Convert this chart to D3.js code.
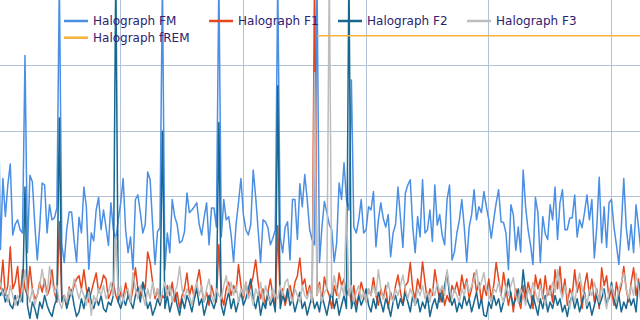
<!DOCTYPE html>
<html><head><meta charset="utf-8">
<script src="https://cdn.jsdelivr.net/npm/d3@7"></script>
<style>html,body{margin:0;padding:0;background:#fff;overflow:hidden}</style>
</head><body><svg id="c" width="640" height="320"></svg>
<script>
// time (sample index) gridline ticks and value gridline ticks
const timeTicks = [0, 50, 100, 150, 200, 250];
const valueTicks = [10, 20, 30, 40];

const seriesNames = ["Halograph FM", "Halograph F1", "Halograph F2", "Halograph F3", "Halograph fREM"];
const seriesColors = ["#4a8fe3", "#e5461c", "#17678f", "#bdbdbd", "#f8b23c"];

const fmValues = [
41,12,22.8,17.0,21.8,25.0,14.2,15.8,16.5,15.0,
14.5,41.5,11.5,23.3,22.3,15.8,10.4,15.4,22.1,21.8,
14.5,18.8,16.5,16.8,18.3,53,12.7,10.0,15.0,17.7,
17.7,13.5,10.1,16.9,14.5,21.5,18.5,9.0,14.5,13.3,
18.0,19.9,15.0,18.0,15.4,12.6,19.1,15.0,13.5,16.5,
19.1,22.8,15.0,11.5,13.9,8.9,19.6,20.3,17.6,14.5,
15.8,23.8,22.6,15.8,9.7,14.7,15.3,53,8.9,14.5,
11.5,19.6,17.0,15.8,13.0,13.3,14.7,20.6,17.6,18.0,
18.5,19.1,15.8,14.2,16.9,19.1,12.7,18.3,18.3,15.4,
53,13.9,19.6,16.5,17.0,14.2,10.1,15.8,19.1,22.8,
17.3,15.0,14.2,15.8,24.1,20.0,15.0,10.0,16.5,16.2,
15.3,12.7,13.7,15.0,53,13.9,11.5,15.4,16.2,10.4,
19.6,19.6,13.5,22.0,18.5,23.4,19.6,15.0,13.5,12.7,
53,10.0,15.4,19.3,17.6,15.8,15.0,10.1,13.0,22.1,
19.6,25.2,19.6,18.0,37.8,15.4,14.5,16.5,19.6,14.5,
15.0,18.5,18.0,20.8,12.4,16.5,19.1,16.7,15.4,17.3,
10.9,14.5,15.8,21.5,16.8,12.3,20.6,21.8,22.6,15.4,
11.5,17.0,13.9,22.6,14.5,15.0,18.0,13.2,21.8,15.7,
17.3,14.2,12.7,19.6,21.8,10.4,11.6,14.5,16.5,19.6,
15.4,10.1,15.4,17.3,21.1,16.5,18.5,17.6,20.8,18.5,
16.5,13.7,16.5,19.1,21.1,16.2,16.1,14.5,8.9,18.8,
17.3,11.9,15.4,11.6,24.1,18.5,15.0,12.7,9.7,19.9,
17.6,10.0,17.0,14.4,13.5,18.8,16.5,21.5,13.5,19.1,
21.1,15.0,15.0,16.8,16.8,20.3,13.9,16.5,15.3,17.6,
20.3,16.5,19.6,10.7,15.4,23.0,13.0,18.5,12.3,19.1,
19.6,15.4,12.7,9.7,15.4,22.8,15.4,11.9,15.8,11.5,
18.8,15.4,11.6];

const f1Values = [
8.5,6.0,10.4,5.0,6.5,12.4,6.0,7.0,9.4,4.5,
8.9,6.0,5.0,9.4,6.0,4.5,5.0,7.0,5.5,7.5,
5.0,6.0,8.9,5.5,4.0,16.2,4.5,5.0,3.5,6.3,
5.0,6.5,7.5,8.0,6.0,8.9,6.0,4.0,5.5,7.0,
8.4,5.5,6.5,8.1,7.5,4.5,5.5,7.0,5.0,4.0,
5.5,4.5,6.9,5.0,4.0,6.0,9.2,6.0,5.0,7.0,
6.0,11.6,10.0,7.0,4.5,6.0,3.5,5.0,4.5,6.5,
5.0,7.0,4.0,5.5,3.0,5.0,6.0,8.4,5.0,6.5,
4.5,7.0,8.9,6.0,4.0,5.5,3.5,6.5,5.0,4.0,
12.7,5.0,3.5,6.0,7.0,5.0,6.5,5.5,9.7,6.5,
4.5,7.0,5.0,6.5,8.0,10.4,7.0,4.5,6.0,3.5,
5.5,7.5,5.0,3.0,15.6,4.0,6.0,3.5,5.0,6.5,
4.5,7.0,8.0,10.7,6.5,7.5,5.0,6.5,4.0,55,
5.0,7.0,4.0,7.8,6.0,5.0,3.0,6.5,5.0,8.4,
6.5,7.5,5.0,6.0,4.0,6.5,3.5,5.0,7.0,5.5,
4.0,6.0,5.0,7.7,5.0,3.5,6.0,4.5,6.5,3.0,
5.5,4.0,6.5,8.1,5.5,3.5,6.5,7.0,10.0,6.0,
4.5,7.5,6.0,10.1,7.0,4.0,6.0,5.0,8.9,6.5,
4.0,6.0,3.5,5.0,4.0,6.5,5.5,7.0,5.0,8.1,
6.0,7.5,4.5,6.0,8.4,5.5,7.0,4.0,6.5,5.0,
7.5,4.5,6.5,10.0,7.5,5.0,8.5,6.0,3.5,5.5,
2.5,6.0,4.5,3.0,6.5,4.0,7.0,5.5,3.0,8.1,
6.0,7.5,4.5,8.0,5.0,6.5,4.0,8.9,6.0,9.4,
5.0,7.5,3.5,6.0,5.0,8.9,5.5,7.0,3.0,6.5,
8.4,5.0,7.5,4.0,6.0,3.0,9.2,6.5,8.0,4.5,
6.0,3.5,7.0,5.0,6.5,9.4,6.0,4.0,7.0,9.2,
5.0,7.5,4.0];

const f2Values = [
6.2,5.0,6.0,4.0,5.0,3.5,3.0,5.0,3.5,5.0,
4.0,21.5,3.5,1.5,4.0,3.0,1.5,4.0,3.0,5.0,
3.5,2.5,1.8,3.5,4.5,32,4.0,5.0,3.0,4.5,
5.9,3.5,1.8,2.5,4.5,3.0,5.0,6.2,4.0,3.0,
4.5,3.5,5.0,3.0,2.5,4.0,3.5,5.0,55,4.0,
3.0,4.5,3.5,5.0,4.0,3.0,5.0,6.2,4.0,7.0,
5.0,3.0,4.0,2.0,3.0,4.5,3.5,30,3.0,5.0,
2.5,4.0,5.5,3.5,2.0,4.5,3.0,5.0,4.0,2.5,
4.5,6.0,3.5,4.5,2.0,3.5,5.0,4.0,3.0,4.5,
31.3,3.5,2.0,4.0,5.5,3.0,4.5,2.5,4.0,5.5,
3.5,4.5,6.0,7.5,4.5,3.0,5.0,2.0,4.0,3.0,
5.5,3.5,4.5,2.5,36.9,3.0,5.0,4.0,6.0,3.5,
4.5,2.5,4.0,5.5,3.0,4.0,2.0,3.5,5.0,3.0,
4.0,2.5,5.0,3.5,2.0,4.0,5.5,3.0,4.5,2.0,
3.5,5.0,3.0,55,3.0,4.5,2.5,5.0,3.5,4.5,
6.0,3.5,2.5,4.5,3.0,5.5,4.0,2.5,4.5,3.5,
1.8,4.0,5.0,3.0,4.5,3.5,5.5,4.0,2.5,5.0,
3.5,4.5,2.5,4.0,3.0,5.0,1.8,3.5,4.5,3.0,
5.5,4.0,6.5,8.5,5.0,3.5,4.5,2.5,4.0,3.0,
5.0,3.5,4.5,2.5,4.0,5.5,3.0,4.5,2.0,1.8,
4.0,3.0,5.0,3.5,4.5,2.5,4.0,5.5,7.5,5.0,
3.5,4.5,6.0,4.0,8.9,5.5,4.0,3.0,5.0,3.5,
2.0,4.5,3.0,5.0,2.5,4.0,3.0,5.0,3.5,4.5,
2.5,3.5,1.8,4.0,5.0,3.0,4.5,2.5,4.0,5.5,
3.0,4.0,2.0,3.5,5.0,3.5,4.5,6.0,3.5,5.0,
7.0,4.5,3.0,5.0,2.5,4.0,3.0,5.0,3.5,4.5,
2.5,7.0,5.0];

const f3Values = [
5.5,7.0,5.0,6.0,4.0,6.5,5.0,3.5,5.0,4.0,
6.0,8.9,5.5,4.0,6.0,3.5,5.0,6.5,9.0,6.5,
5.0,9.4,7.0,5.5,6.5,4.0,3.0,5.0,4.0,6.0,
5.0,7.5,6.0,4.5,6.0,5.0,3.5,5.5,2.0,5.0,
4.0,6.0,5.0,6.5,4.5,5.5,7.0,5.0,14.0,5.0,
6.5,4.0,5.5,6.0,4.0,8.5,6.0,4.5,6.5,5.0,
3.5,6.0,4.5,7.0,5.0,6.0,4.0,5.5,7.0,5.0,
6.5,4.0,5.5,6.5,9.4,6.0,4.5,6.0,5.0,3.5,
5.5,7.0,5.0,6.5,4.0,6.0,7.5,5.0,4.0,6.0,
5.0,4.5,6.5,8.0,5.5,7.0,5.0,6.5,4.0,6.0,
5.0,7.0,4.5,5.5,3.5,6.0,5.0,7.0,4.0,6.5,
5.0,4.0,6.0,5.0,4.5,6.5,5.0,7.0,7.5,5.0,
4.0,6.0,5.0,4.0,6.5,5.0,4.5,6.0,4.0,38.9,
5.0,6.5,4.0,5.5,6.0,55,5.0,8.0,6.0,4.5,
6.5,5.0,18.5,5.0,6.5,4.0,5.5,6.5,4.5,5.5,
4.0,6.0,5.0,6.5,5.0,8.9,6.0,4.5,5.5,7.0,
5.0,4.0,6.0,5.0,6.5,8.1,6.0,4.5,6.0,5.0,
3.5,6.0,5.0,6.5,4.5,5.5,4.0,6.0,5.0,7.0,
5.5,6.5,5.0,8.9,6.0,4.5,6.0,5.0,4.0,6.0,
5.0,7.0,5.5,6.5,7.5,8.9,6.0,7.0,8.5,6.0,
5.0,4.0,6.0,5.5,7.0,5.0,4.0,6.5,5.0,6.5,
7.7,5.0,4.0,6.0,5.0,3.5,6.0,5.0,7.0,5.5,
4.0,6.5,5.0,3.5,6.0,5.0,7.0,5.5,8.9,6.0,
4.5,6.5,5.0,3.0,5.5,4.0,6.5,8.4,6.0,5.0,
3.5,6.0,5.0,7.0,5.5,4.0,6.5,5.0,3.0,5.5,
6.5,5.0,4.0,6.0,7.0,8.4,6.0,4.5,6.5,5.0,
8.4,6.0,4.5];

const fremTimes = [130, 262];
const fremValues = [44.5, 44.5];

const svg = d3.select("#c");
const x = d3.scaleLinear().domain([0, 250]).range([-2, 611.5]);
const y = d3.scaleLinear().domain([0, 50]).range([328.3, -0.3]);

const gridColor = "#b2c2d8";
const grid = svg.append("g");
grid.selectAll("line.h").data(valueTicks).join("line").attr("class","h")
  .attr("x1", 0).attr("x2", 640)
  .attr("y1", d => Math.floor(y(d)) + 0.5).attr("y2", d => Math.floor(y(d)) + 0.5)
  .attr("stroke", gridColor).attr("stroke-width", 1);
grid.selectAll("line.v").data(timeTicks).join("line").attr("class","v")
  .attr("y1", 0).attr("y2", 320)
  .attr("x1", d => Math.floor(x(d)) + 0.5).attr("x2", d => Math.floor(x(d)) + 0.5)
  .attr("stroke", gridColor).attr("stroke-width", 1);

const line = d3.line().x((d, i) => x(i)).y(d => y(d));
const seriesData = [fmValues, f1Values, f2Values, f3Values];
const plot = svg.append("g");
seriesData.forEach((vals, k) => {
  plot.append("path").datum(vals)
    .attr("d", line)
    .attr("fill", "none")
    .attr("stroke", seriesColors[k])
    .attr("stroke-width", 1.5)
    .attr("stroke-linejoin", "round");
});
const fremLine = d3.line().x(d => x(d[0])).y(d => y(d[1]));
plot.append("path").datum(fremTimes.map((t, i) => [t, fremValues[i]]))
  .attr("d", fremLine).attr("fill", "none")
  .attr("stroke", seriesColors[4]).attr("stroke-width", 1.5);

// legend
const legendX = [64, 209, 338, 467, 64];
const legendY = [21, 21, 21, 21, 37.7];
const lg = svg.append("g");
seriesNames.forEach((name, i) => {
  const g = lg.append("g").attr("transform", `translate(${legendX[i]},${legendY[i]})`);
  g.append("line").attr("x1", 0).attr("x2", 24).attr("y1", 0).attr("y2", 0)
    .attr("stroke", seriesColors[i]).attr("stroke-width", 2.5);
  g.append("text").attr("x", 29).attr("y", 4.3)
    .attr("font-family", "Verdana, 'DejaVu Sans', sans-serif")
    .attr("font-size", 12).attr("fill", "#2c2170").text(name);
});
</script></body></html>
